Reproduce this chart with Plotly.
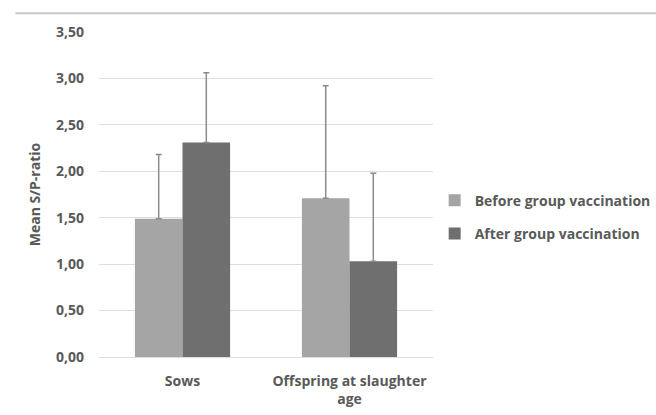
import plotly.graph_objects as go

# Mean S/P-ratio by group, before and after group vaccination
categories = ["Sows", "Offspring at slaughter<br>age"]
before_mean = [1.49, 1.71]
before_upper = [2.18, 2.92]
after_mean = [2.31, 1.03]
after_upper = [3.06, 1.98]
y_ticks = [0, 0.5, 1, 1.5, 2, 2.5, 3, 3.5]

FONT = "Open Sans"
TXT = "#595959"
SIZE = 14


def upper_err(mean, upper):
    return [u - m for m, u in zip(mean, upper)]


fig = go.Figure()
fig.add_trace(go.Bar(
    name="Before group vaccination", x=categories, y=before_mean,
    legendgroup="before",
    marker=dict(color="#a5a5a5", line=dict(width=0)),
    error_y=dict(type="data", symmetric=False,
                 array=upper_err(before_mean, before_upper),
                 arrayminus=[0, 0], color="#8c8c8c", thickness=1.5, width=3),
))
fig.add_trace(go.Bar(
    name="After group vaccination", x=categories, y=after_mean,
    legendgroup="after",
    marker=dict(color="#6f6f6f", line=dict(width=0)),
    error_y=dict(type="data", symmetric=False,
                 array=upper_err(after_mean, after_upper),
                 arrayminus=[0, 0], color="#8c8c8c", thickness=1.5, width=3),
))

fig.update_layout(
    width=656, height=415,
    margin=dict(l=99, r=223, t=32, b=58, autoexpand=False),
    paper_bgcolor="white", plot_bgcolor="white",
    barmode="group", bargap=0.43, bargroupgap=0,
    separators=",.",
    font=dict(family=FONT, size=SIZE, color=TXT, weight="bold"),
    showlegend=True,
    legend=dict(x=1.005, y=0.43, xanchor="left", yanchor="middle",
                font=dict(family=FONT, size=SIZE, color=TXT, weight="bold"),
                itemwidth=30, tracegroupgap=12, bgcolor="rgba(0,0,0,0)"),
    xaxis=dict(showgrid=False, showline=False, zeroline=False, ticks="",
               ticklabelstandoff=14,
               tickfont=dict(family=FONT, size=SIZE, color=TXT, weight="bold")),
    yaxis=dict(range=[0, 3.5], tickvals=y_ticks, tickformat=".2f",
               showgrid=True, gridcolor="#dedede", gridwidth=1,
               zeroline=True, zerolinecolor="#dedede", zerolinewidth=1,
               showline=False, ticks="", ticklabelstandoff=14,
               tickfont=dict(family=FONT, size=SIZE, color=TXT, weight="bold"),
               title=dict(text="Mean S/P-ratio", standoff=12,
                          font=dict(family=FONT, size=SIZE, color=TXT, weight="bold"))),
    shapes=[dict(type="line", xref="paper", yref="paper",
                 x0=-0.25, x1=1.7, y0=1.058, y1=1.058,
                 line=dict(color="#c8c8c8", width=2))],
)

fig.write_html("out.html")
